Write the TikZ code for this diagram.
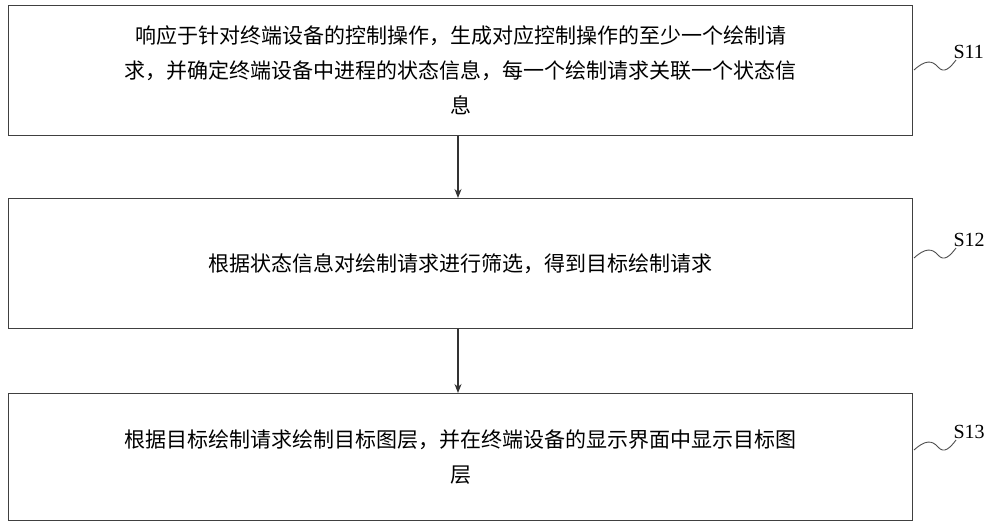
\documentclass[tikz,border=0pt]{standalone}
\usepackage{fontspec}
\usetikzlibrary{arrows.meta}
\setmainfont{Liberation Serif}
\newfontfamily\cjk{Noto Sans CJK SC}
\begin{document}
\begin{tikzpicture}[x=1pt,y=-1pt,
  stepbox/.style={draw=black!75,line width=1.2pt,minimum width=904pt,minimum height=130pt,inner sep=0pt,anchor=north west},
  txt/.style={font=\cjk\fontsize{21pt}{35pt}\selectfont,align=center},
  arr/.style={-{Stealth[length=9pt,width=7pt]},line width=1.2pt,draw=black!80},
  lab/.style={font=\fontsize{20pt}{22pt}\selectfont,anchor=west},
  sq/.style={line width=0.9pt,draw=black!70}]
\useasboundingbox (0,0) rectangle (1000,527);
\node[stepbox] (b1) at (8,5) {};
\node[stepbox] (b2) at (8,198) {};
\node[stepbox,minimum height=127pt] (b3) at (8,393) {};
\node[txt] at (b1.center) {响应于针对终端设备的控制操作，生成对应控制操作的至少一个绘制请\\求，并确定终端设备中进程的状态信息，每一个绘制请求关联一个状态信\\息};
\node[txt] at (b2.center) {根据状态信息对绘制请求进行筛选，得到目标绘制请求};
\node[txt] at (b3.center) {根据目标绘制请求绘制目标图层，并在终端设备的显示界面中显示目标图\\层};
\draw[arr] (b1.south -| 458,0) -- (b2.north -| 458,0);
\draw[arr] (b2.south -| 458,0) -- (b3.north -| 458,0);
\foreach \n/\y/\t in {1/52/S11,2/240/S12,3/432/S13}{
  \node[lab] (l\n) at (950,\y) {\t};
  \draw[sq] (914,\y+18) .. controls (925,\y+8) and (932,\y+8) .. (938,\y+15) .. controls (944,\y+22) and (950,\y+16) .. (956,\y+8);
}
\end{tikzpicture}
\end{document}
